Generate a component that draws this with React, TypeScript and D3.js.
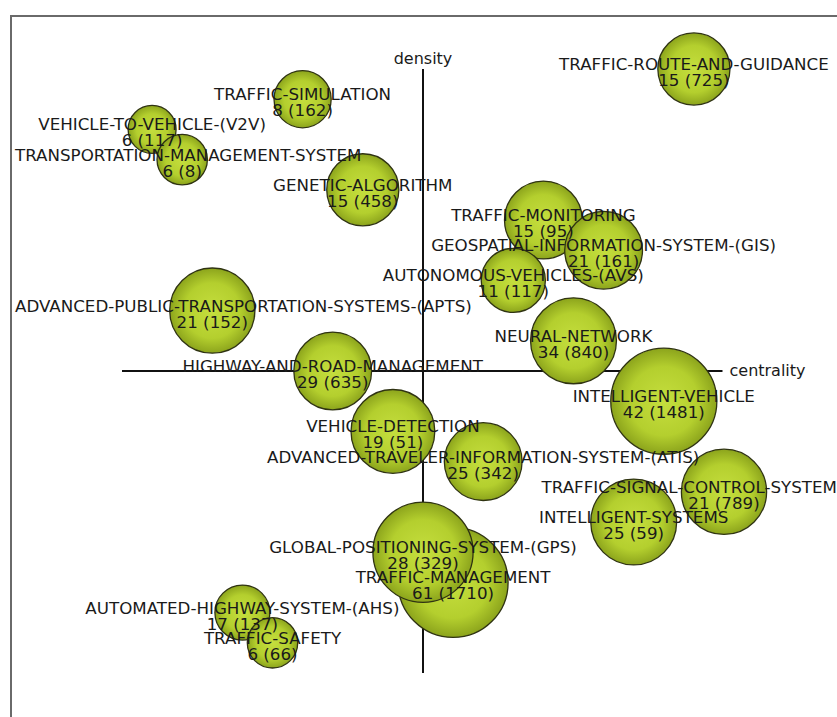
import * as d3 from 'd3';
import React, { useRef, useEffect } from 'react';

// themes of the strategic diagram (drawing order: later ones sit on top)
const themes = [
    'TRAFFIC-SIMULATION',
    'VEHICLE-TO-VEHICLE-(V2V)',
    'TRANSPORTATION-MANAGEMENT-SYSTEM',
    'GENETIC-ALGORITHM',
    'TRAFFIC-ROUTE-AND-GUIDANCE',
    'TRAFFIC-MONITORING',
    'GEOSPATIAL-INFORMATION-SYSTEM-(GIS)',
    'AUTONOMOUS-VEHICLES-(AVS)',
    'ADVANCED-PUBLIC-TRANSPORTATION-SYSTEMS-(APTS)',
    'NEURAL-NETWORK',
    'HIGHWAY-AND-ROAD-MANAGEMENT',
    'INTELLIGENT-VEHICLE',
    'VEHICLE-DETECTION',
    'ADVANCED-TRAVELER-INFORMATION-SYSTEM-(ATIS)',
    'TRAFFIC-SIGNAL-CONTROL-SYSTEM',
    'INTELLIGENT-SYSTEMS',
    'TRAFFIC-MANAGEMENT',
    'GLOBAL-POSITIONING-SYSTEM-(GPS)',
    'AUTOMATED-HIGHWAY-SYSTEM-(AHS)',
    'TRAFFIC-SAFETY',
];

// centrality / density (rank based, -1..1 around the axes)
const centrality = [-0.4, -0.9, -0.8, -0.2, 0.9, 0.4, 0.6, 0.3, -0.7, 0.5, -0.3, 0.8, -0.1, 0.2, 1.0, 0.7, 0.1, 0.0, -0.6, -0.5];
const density = [0.9, 0.8, 0.7, 0.6, 1.0, 0.5, 0.4, 0.3, 0.2, 0.1, 0.0, -0.1, -0.2, -0.3, -0.4, -0.5, -0.7, -0.6, -0.8, -0.9];

// documents and citations shown in each bubble
const documents = [8, 6, 6, 15, 15, 15, 21, 11, 21, 34, 29, 42, 19, 25, 21, 25, 61, 28, 17, 6];
const citations = [162, 117, 8, 458, 725, 95, 161, 117, 152, 840, 635, 1481, 51, 342, 789, 59, 1710, 329, 137, 66];

// relative bubble size
const sizes = [27, 19, 21, 43, 43, 50, 50, 34, 60, 61, 50, 93, 58, 50, 60, 61, 100, 83, 25, 21];

const WIDTH = 837;
const HEIGHT = 717;

const StrategicDiagram: React.FC = () => {
    const ref = useRef<SVGSVGElement | null>(null);

    useEffect(() => {
        const svg = d3.select(ref.current);
        svg.selectAll('*').remove();

        const x = d3.scaleLinear().domain([-1, 1]).range([122, 724]);
        const y = d3.scaleLinear().domain([-1, 1]).range([673, 69]);
        const r = d3.scaleSqrt().domain([0, 100]).range([0, 55]);

        const data = themes.map((name, i) => ({
            name,
            c: centrality[i],
            d: density[i],
            docs: documents[i],
            cites: citations[i],
            size: sizes[i],
        }));

        // bubble gradient
        const defs = svg.append('defs');
        const grad = defs
            .append('radialGradient')
            .attr('id', 'bubble')
            .attr('cx', '50%')
            .attr('cy', '50%')
            .attr('r', '50%');
        grad.append('stop').attr('offset', '0%').attr('stop-color', '#c5de3e');
        grad.append('stop').attr('offset', '65%').attr('stop-color', '#b4cf2e');
        grad.append('stop').attr('offset', '100%').attr('stop-color', '#8ca41c');

        // frame
        svg.append('path')
            .attr('d', `M11,${HEIGHT + 5} V16 H${WIDTH + 5}`)
            .attr('fill', 'none')
            .attr('stroke', '#6a6a6a')
            .attr('stroke-width', 2);

        // axes
        svg.append('line')
            .attr('x1', x(-1))
            .attr('x2', x(0.995))
            .attr('y1', y(0))
            .attr('y2', y(0))
            .attr('stroke', '#111')
            .attr('stroke-width', 2);
        svg.append('line')
            .attr('x1', x(0))
            .attr('x2', x(0))
            .attr('y1', y(1))
            .attr('y2', y(-1))
            .attr('stroke', '#111')
            .attr('stroke-width', 2);

        const font = "'DejaVu Sans', Verdana, sans-serif";
        const fontSize = '16.7px';

        svg.append('text')
            .attr('x', x(0))
            .attr('y', y(1) - 5)
            .attr('text-anchor', 'middle')
            .style('font-family', font)
            .style('font-size', '16px')
            .attr('fill', '#1a1a1a')
            .text('density');

        svg.append('text')
            .attr('x', x(0.995) + 7)
            .attr('y', y(0) + 5)
            .attr('text-anchor', 'start')
            .style('font-family', font)
            .style('font-size', '16px')
            .attr('fill', '#1a1a1a')
            .text('centrality');

        // bubbles
        svg.append('g')
            .selectAll('circle')
            .data(data)
            .join('circle')
            .attr('cx', (p) => x(p.c))
            .attr('cy', (p) => y(p.d))
            .attr('r', (p) => r(p.size))
            .attr('fill', 'url(#bubble)')
            .attr('stroke', '#2f3312')
            .attr('stroke-width', 1.3);

        // labels on top of everything
        const labels = svg
            .append('g')
            .style('font-family', font)
            .style('font-size', fontSize)
            .attr('fill', '#1a1a1a')
            .attr('text-anchor', 'middle');

        labels
            .selectAll('text.name')
            .data(data)
            .join('text')
            .attr('class', 'name')
            .attr('x', (p) => x(p.c))
            .attr('y', (p) => y(p.d) + 1)
            .text((p) => p.name)
            .each(function (p) {
                // keep long names inside the frame
                const w = (this as SVGTextElement).getComputedTextLength();
                let cx = x(p.c);
                if (cx - w / 2 < 15) cx = 15 + w / 2;
                if (cx + w / 2 > WIDTH) cx = WIDTH - w / 2;
                d3.select(this).attr('x', cx);
            });

        labels
            .selectAll('text.count')
            .data(data)
            .join('text')
            .attr('class', 'count')
            .attr('x', (p) => x(p.c))
            .attr('y', (p) => y(p.d) + 17)
            .text((p) => `${p.docs} (${p.cites})`);
    }, []);

    return (
        <svg
            ref={ref}
            width={WIDTH}
            height={HEIGHT}
            style={{ position: 'absolute', left: 0, top: 0, background: '#fff' }}
        ></svg>
    );
};

export default function App() {
    return <StrategicDiagram />;
}
